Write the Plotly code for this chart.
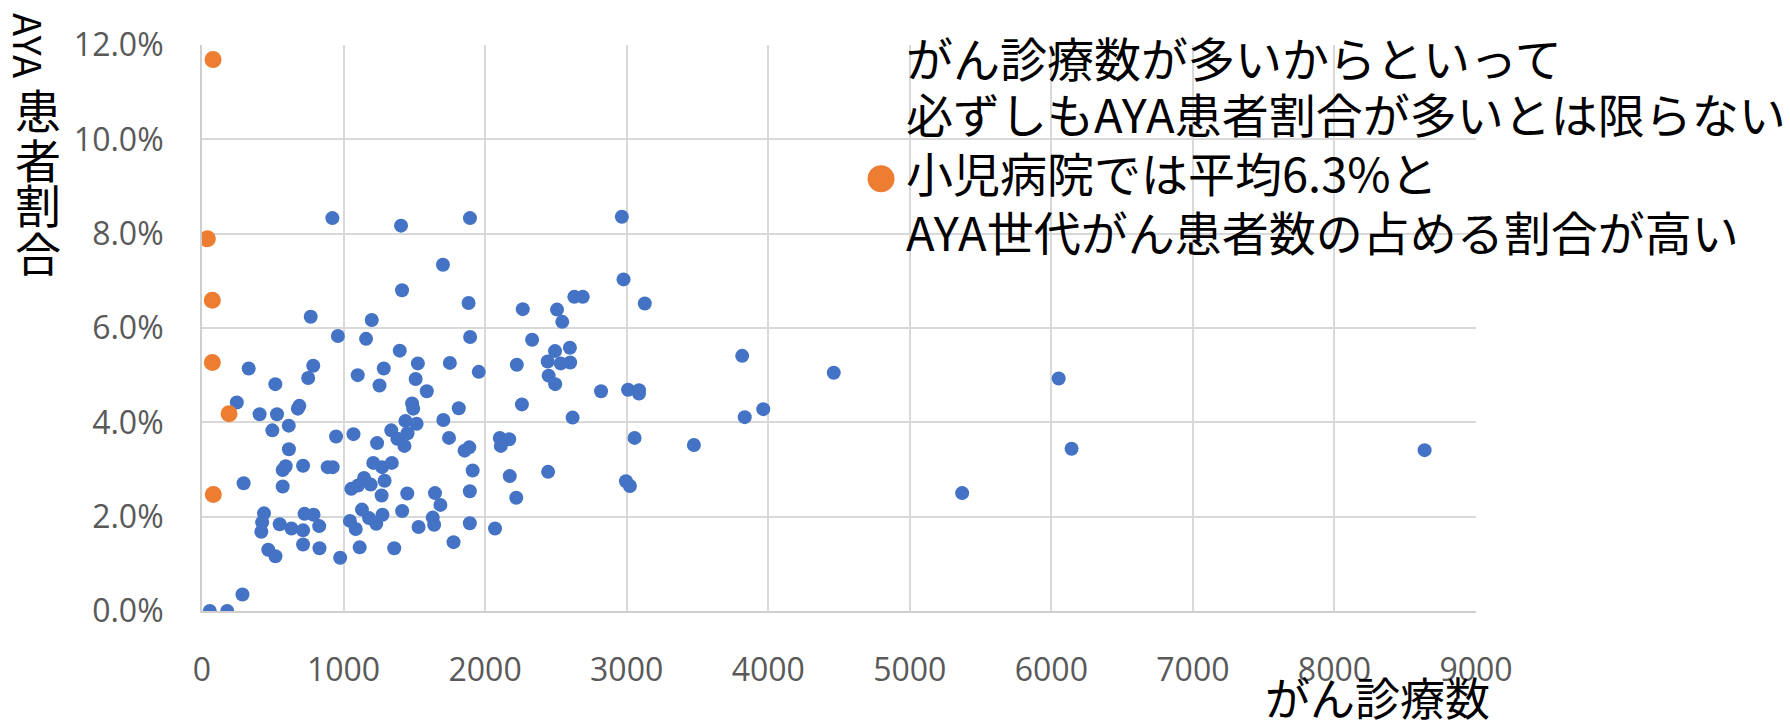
import plotly.graph_objects as go

# ---- data ----
blue_x = [921, 1406, 1893, 2966, 1702, 2978, 1413, 1883, 2266, 2508,
          2545, 2630, 2690, 3128, 768, 1199, 960, 1159, 1894, 2332,
          1397, 2494, 2599, 3816, 330, 786, 750, 518, 1100, 1284,
          1525, 1751, 1955, 2224, 2442, 2534, 2601, 2449, 2495, 1254,
          1509, 1588, 2819, 3010, 3087, 3087, 4463, 6052, 246, 1484,
          1492, 1814, 2260, 3834, 3965, 407, 530, 677, 688, 2618,
          1705, 1437, 1516, 497, 613, 947, 1070, 1237, 1337, 1380,
          1430, 1452, 1745, 1855, 1888, 2104, 2170, 2111, 3056, 3475,
          6143, 8637, 614, 294, 570, 591, 714, 888, 923, 1210,
          1272, 1341, 1145, 1192, 1290, 1055, 1102, 1269, 1450, 1646,
          1684, 1892, 1912, 2174, 2220, 2445, 2995, 3023, 5370, 570,
          438, 425, 419, 549, 632, 714, 724, 788, 828, 1045,
          1086, 1130, 1180, 1231, 1275, 1414, 1530, 1630, 1640, 1892,
          2070, 1777, 714, 830, 468, 519, 976, 1114, 1358, 286,
          55, 178]
blue_pct = [8.33, 8.17, 8.33, 8.36, 7.34, 7.03, 6.80, 6.53, 6.40, 6.39,
            6.13, 6.66, 6.66, 6.52, 6.24, 6.17, 5.83, 5.77, 5.81, 5.75,
            5.52, 5.51, 5.58, 5.41, 5.14, 5.20, 4.94, 4.81, 5.00, 5.14,
            5.25, 5.26, 5.07, 5.22, 5.29, 5.25, 5.27, 4.99, 4.81, 4.78,
            4.92, 4.66, 4.66, 4.69, 4.68, 4.61, 5.05, 4.93, 4.42, 4.40,
            4.29, 4.30, 4.38, 4.11, 4.28, 4.17, 4.17, 4.29, 4.35, 4.10,
            4.05, 4.03, 3.97, 3.83, 3.93, 3.70, 3.75, 3.56, 3.83, 3.65,
            3.50, 3.77, 3.67, 3.40, 3.47, 3.67, 3.64, 3.50, 3.67, 3.52,
            3.44, 3.41, 3.43, 2.71, 2.99, 3.07, 3.08, 3.05, 3.05, 3.14,
            3.05, 3.14, 2.82, 2.68, 2.76, 2.59, 2.66, 2.45, 2.49, 2.50,
            2.25, 2.54, 2.98, 2.86, 2.40, 2.95, 2.75, 2.65, 2.50, 2.64,
            2.07, 1.88, 1.68, 1.84, 1.75, 1.71, 2.06, 2.04, 1.80, 1.91,
            1.74, 2.15, 1.97, 1.85, 2.04, 2.12, 1.78, 1.98, 1.83, 1.86,
            1.75, 1.46, 1.41, 1.33, 1.30, 1.16, 1.13, 1.35, 1.33, 0.35,
            0.0, 0.0]
orange_x = [78, 38, 73, 73, 191, 80]
orange_pct = [11.69, 7.89, 6.59, 5.27, 4.18, 2.47]

x_ticks = [0, 1000, 2000, 3000, 4000, 5000, 6000, 7000, 8000, 9000]
y_ticks = [0.0, 0.02, 0.04, 0.06, 0.08, 0.10, 0.12]

note_lines = ["がん診療数が多いからといって",
              "必ずしもAYA患者割合が多いとは限らない",
              "小児病院では平均6.3%と",
              "AYA世代がん患者数の占める割合が高い"]
y_title_latin = "AYA"
y_title_kanji = ["患", "者", "割", "合"]
x_title = "がん診療数"

BLUE = "#4472C4"
ORANGE = "#ED7D31"
GRID = "#D9D9D9"
JP = "Noto Sans CJK JP"

fig = go.Figure()
fig.add_trace(go.Scatter(x=blue_x, y=[v / 100 for v in blue_pct], mode="markers",
                         marker=dict(color=BLUE, size=14, line=dict(width=0)),
                         showlegend=False, name="一般病院"))
fig.add_trace(go.Scatter(x=orange_x, y=[v / 100 for v in orange_pct], mode="markers",
                         marker=dict(color=ORANGE, size=17, line=dict(width=0)),
                         showlegend=False, name="小児病院"))

L, R, T, B = 202, 314, 45, 112
fig.update_layout(
    width=1790, height=723,
    margin=dict(l=L, r=R, t=T, b=B),
    paper_bgcolor="white", plot_bgcolor="white",
    font=dict(family=JP, color="black"),
)
fig.update_xaxes(range=[0, 9000], tickvals=x_ticks, ticktext=[str(v) for v in x_ticks],
                 showgrid=True, gridcolor=GRID, gridwidth=1.5,
                 showline=True, linecolor="#CFCFCF", linewidth=2,
                 zeroline=False, ticks="", ticklabelstandoff=30,
                 tickfont=dict(family="Open Sans", size=32, color="#595959"))
fig.update_yaxes(range=[0, 0.12], tickvals=y_ticks, tickformat=".1%",
                 showgrid=True, gridcolor=GRID, gridwidth=1.5,
                 showline=True, linecolor="#CFCFCF", linewidth=2,
                 zeroline=False, ticks="", ticklabelstandoff=30,
                 tickfont=dict(family="Open Sans", size=32, color="#595959"))

# note text
note_y = [0.9793, 0.8804, 0.7760, 0.6719]
for txt, yy in zip(note_lines, note_y):
    fig.add_annotation(text=txt, xref="paper", yref="paper", x=0.551, y=yy,
                       xanchor="left", yanchor="middle", showarrow=False,
                       font=dict(family=JP, size=47, color="black"))

# legend-like dot
fig.add_shape(type="circle", xref="paper", yref="paper",
              xsizemode="pixel", ysizemode="pixel",
              xanchor=0.533, yanchor=0.7638,
              x0=-13.5, x1=13.5, y0=-13.5, y1=13.5,
              fillcolor=ORANGE, line=dict(width=0))

# y-axis title (vertical writing)
fig.add_annotation(text=y_title_latin, xref="paper", yref="paper", x=-0.1353, y=0.9990,
                   xanchor="center", yanchor="middle", textangle=90, showarrow=False,
                   font=dict(family=JP, size=38, color="black"))
for ch, yy in zip(y_title_kanji, [0.889, 0.801, 0.7214, 0.6366]):
    fig.add_annotation(text=ch, xref="paper", yref="paper", x=-0.1286, y=yy,
                       xanchor="center", yanchor="middle", showarrow=False,
                       font=dict(family=JP, size=46, color="black"))

# x-axis title
fig.add_annotation(text=x_title, xref="paper", yref="paper", x=0.9225, y=-0.1514,
                   xanchor="center", yanchor="middle", showarrow=False,
                   font=dict(family=JP, size=45, color="black"))

fig.write_html("out.html", config={"displayModeBar": False},
               post_script="document.body.style.margin='0';")
